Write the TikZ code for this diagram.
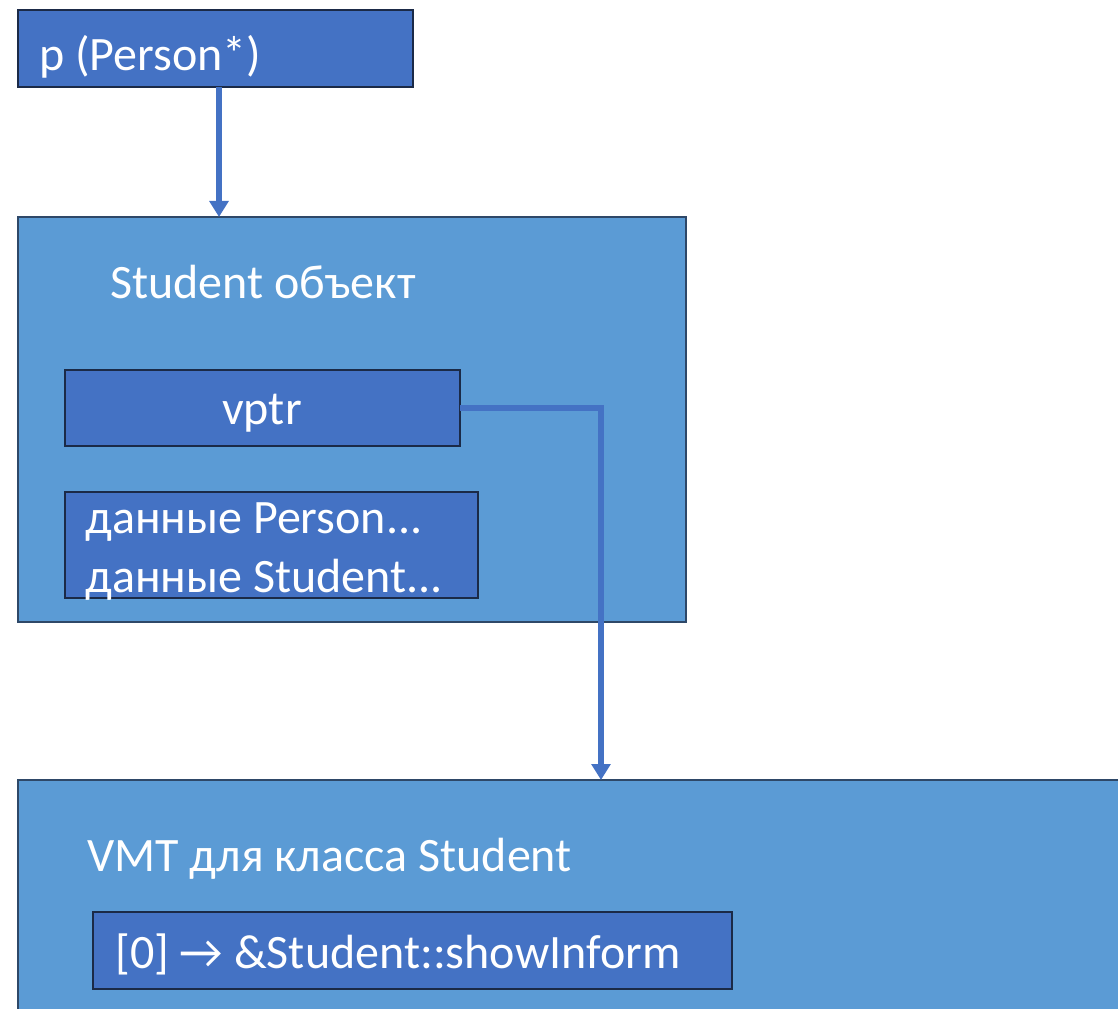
\documentclass[tikz,border=0pt]{standalone}
\usepackage{fontspec}
\setmainfont{Carlito}
\usetikzlibrary{arrows.meta}
\definecolor{outerfill}{HTML}{5B9BD5}
\definecolor{innerfill}{HTML}{4472C4}
\definecolor{outerline}{HTML}{2E4868}
\definecolor{innerline}{HTML}{1B2A47}
\definecolor{linkcol}{HTML}{4472C4}
\tikzset{
  outerbox/.style={draw=outerline, line width=1.5pt, fill=outerfill, anchor=north west, inner sep=0pt, outer sep=0pt},
  innerbox/.style={draw=innerline, line width=1.8pt, fill=innerfill, anchor=north west, inner sep=0pt, outer sep=0pt},
  label/.style={text=white, inner sep=0pt, anchor=base west, font=\fontsize{36}{42}\selectfont},
  link/.style={draw=linkcol, line width=3.8pt, -{Triangle[width=14pt, length=12pt]}},
}
\begin{document}
\begin{tikzpicture}[x=0.75pt, y=-0.75pt]
  \useasboundingbox (0,0) rectangle (1118,1009);
  \clip (0,0) rectangle (1118,1009);

  % pointer variable
  \node[innerbox, minimum width=395*0.75pt, minimum height=77*0.75pt] (pbox) at (18,10) {};
  \node[label] (ptxt) at (39,71) {p (Person*)};

  % Student object with its vptr and data fields
  \node[outerbox, minimum width=668*0.75pt, minimum height=405*0.75pt] (obj) at (18,217) {};
  \node[label] (objtxt) at (110,299) {Student объект};
  \node[innerbox, minimum width=395*0.75pt, minimum height=76*0.75pt] (vptr) at (65,370) {};
  \node[label, anchor=base] (vptrtxt) at (262,425) {vptr};
  \node[innerbox, minimum width=413*0.75pt, minimum height=106*0.75pt] (data) at (65,492) {};
  \node[label] (dataA) at (85,533) {данные Person...};
  \node[label] (dataB) at (85,592) {данные Student...};

  % virtual method table
  \node[outerbox, minimum width=1130*0.75pt, minimum height=260*0.75pt] (vmt) at (18,780) {};
  \node[label] (vmttxt) at (87,871) {VMT для класса Student};
  \node[innerbox, minimum width=639*0.75pt, minimum height=77*0.75pt] (slot) at (93,912) {};
  \node[label] (slottxt) at (115,968) {[0] → \&Student::showInform};

  % connectors
  \coordinate (vmtin) at (601,780);
  \draw[link] ([xshift=3.5*0.75pt]pbox.south) -- ([xshift=3.5*0.75pt]pbox.south |- obj.north);
  \draw[link] (vptr.east) -| (vmtin);
\end{tikzpicture}
\end{document}
